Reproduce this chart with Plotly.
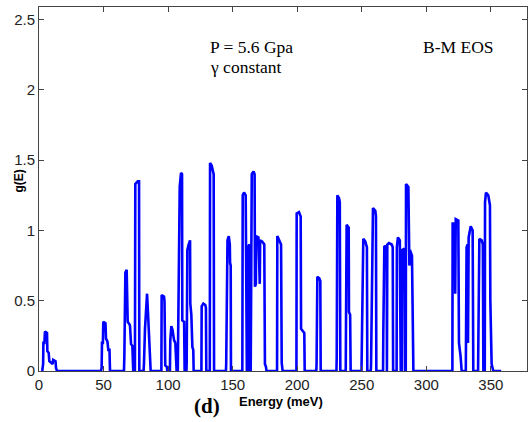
import plotly.graph_objects as go

# Energy (meV) and g(E) points of the phonon density of states curve
energy = [
    2.5, 3.2, 3.4, 4.2, 4.6, 6.2, 6.5, 7.5, 8.0, 10.5, 11.0, 12.8, 13.2, 14.0,
    48.0, 48.5, 48.8, 49.5, 49.8, 51.5, 51.9, 53.0, 53.7, 54.6, 55.0,
    65.8, 66.1, 66.9, 67.9, 68.7, 70.2, 70.5, 71.3, 72.3, 73.0,
    74.3, 74.6, 76.5, 77.5, 77.7,
    81.0, 81.3, 82.1, 82.9, 83.7, 84.4, 85.0, 85.7, 86.5,
    94.8, 95.0, 96.8, 97.2, 97.8, 99.0, 99.4,
    101.4, 101.7, 102.5, 103.5, 104.6, 105.6, 106.3, 106.6,
    107.5, 107.7, 108.4, 109.0, 110.0, 110.8, 111.0, 112.4, 112.8,
    114.2, 114.4, 114.9, 115.9, 117.0, 117.2, 118.0, 118.8, 119.5, 119.8,
    125.8, 126.0, 127.3, 128.8, 129.3, 129.6,
    132.3, 132.5, 133.8, 134.8, 135.3, 135.6,
    144.8, 145.0, 145.4, 146.0, 147.0, 147.8, 148.0, 148.5, 148.7,
    157.5, 157.8, 158.8, 160.1, 160.6, 161.0,
    161.5, 161.7, 163.0, 163.4,
    164.0, 164.2, 164.8, 166.2, 167.0, 167.3, 168.0, 168.2, 170.0, 171.0,
    171.3, 173.0, 174.5, 175.0, 175.8, 176.2,
    184.4, 184.6, 186.1, 187.5, 188.0, 188.7,
    199.4, 199.6, 201.4, 202.7, 203.0, 204.7, 205.5, 205.8,
    214.8, 215.0, 215.6, 217.1, 217.9, 218.2,
    230.4, 230.6, 231.1, 232.4, 233.0, 233.4,
    237.6, 237.8, 238.3, 239.9, 240.1, 241.0, 241.4,
    249.8, 250.0, 251.2, 252.8, 254.0, 254.3,
    257.0, 257.2, 257.9, 258.7, 260.5, 261.0, 261.3,
    266.5, 266.7, 267.5, 269.3, 269.5, 269.8, 271.1, 273.2, 274.0, 274.3,
    277.0, 277.2, 278.0, 279.5, 279.8, 280.2,
    281.0, 281.2, 283.0, 283.5,
    284.1, 284.3, 286.1, 286.9, 287.4, 288.2, 288.9, 290.0,
    320.2, 320.4, 322.2, 322.4, 322.8, 324.8, 325.3, 326.6, 327.4,
    330.6, 330.8, 331.2, 332.0, 332.3, 332.8, 333.5, 334.4, 335.9, 336.2, 336.4,
    340.1, 340.3, 340.7, 341.1, 342.9, 343.8, 344.2,
    345.3, 345.5, 346.2, 348.0, 349.3, 349.6, 350.6, 351.9,
    358.0,
]
g_values = [
    0.0, 0.05, 0.2, 0.2, 0.28, 0.27, 0.14, 0.13, 0.07, 0.05, 0.08, 0.07, 0.02, 0.0,
    0.0, 0.02, 0.2, 0.2, 0.35, 0.34, 0.23, 0.21, 0.15, 0.15, 0.0,
    0.0, 0.1, 0.7, 0.72, 0.35, 0.33, 0.32, 0.19, 0.18, 0.0,
    0.0, 1.33, 1.35, 1.35, 0.0,
    0.0, 0.05, 0.3, 0.42, 0.55, 0.42, 0.3, 0.05, 0.0,
    0.0, 0.54, 0.53, 0.5, 0.04, 0.03, 0.0,
    0.0, 0.22, 0.32, 0.29, 0.22, 0.2, 0.05, 0.0,
    0.0, 0.2, 0.9, 1.31, 1.41, 1.4, 0.36, 0.35, 0.0,
    0.0, 0.06, 0.86, 0.9, 0.93, 0.48, 0.4, 0.17, 0.15, 0.0,
    0.0, 0.46, 0.48, 0.47, 0.45, 0.0,
    0.0, 1.48, 1.46, 1.42, 1.4, 0.0,
    0.0, 0.05, 0.68, 0.93, 0.96, 0.9, 0.77, 0.75, 0.0,
    0.0, 1.25, 1.27, 1.25, 0.05, 0.0,
    0.0, 0.88, 0.9, 0.0,
    0.0, 1.17, 1.4, 1.42, 1.4, 0.6, 0.62, 0.96, 0.95, 0.62,
    0.93, 0.92, 0.9, 0.05, 0.03, 0.0,
    0.0, 0.96, 0.93, 0.9, 0.06, 0.0,
    0.0, 1.12, 1.13, 1.1, 0.3, 0.28, 0.27, 0.0,
    0.0, 0.05, 0.67, 0.66, 0.64, 0.0,
    0.0, 0.1, 1.25, 1.23, 1.2, 0.0,
    0.0, 0.33, 1.04, 1.02, 0.42, 0.4, 0.0,
    0.0, 0.14, 0.94, 0.92, 0.88, 0.0,
    0.0, 0.05, 0.69, 1.16, 1.14, 1.1, 0.0,
    0.0, 0.27, 0.89, 0.88, 0.0, 0.9, 0.91, 0.9, 0.88, 0.0,
    0.0, 0.88, 0.95, 0.93, 0.48, 0.0,
    0.0, 0.86, 0.87, 0.0,
    0.0, 1.33, 1.31, 0.75, 0.86, 0.83, 0.82, 0.0,
    0.0, 1.05, 1.05, 0.55, 1.08, 1.07, 0.2, 0.1, 0.0,
    0.0, 0.3, 0.88, 0.9, 0.2, 0.95, 1.0, 1.03, 1.0, 0.5, 0.0,
    0.0, 0.3, 0.33, 0.94, 0.93, 0.9, 0.0,
    0.0, 1.2, 1.27, 1.25, 1.18, 0.5, 0.05, 0.0,
    0.0,
]

x_ticks = [0, 50, 100, 150, 200, 250, 300, 350]
y_ticks = [0, 0.5, 1, 1.5, 2, 2.5]
y_tick_labels = ["0", "0.5", "1", "1.5", "2", "2.5"]

fig = go.Figure()
fig.add_trace(go.Scatter(
    x=energy, y=g_values, mode="lines",
    line=dict(color="#0000FF", width=2.6),
    showlegend=False, hoverinfo="skip",
))

axis_common = dict(
    showgrid=False, zeroline=False, showline=True, linecolor="#444444",
    linewidth=1, mirror="ticks", ticks="inside", ticklen=5, tickcolor="#444444",
    tickfont=dict(family="Liberation Sans, Arial", size=15, color="#222222"),
)

fig.update_layout(
    width=529, height=422,
    margin=dict(l=39, r=2, t=7, b=51),
    paper_bgcolor="white", plot_bgcolor="white",
    xaxis=dict(range=[0, 378], tickvals=x_ticks, **axis_common),
    yaxis=dict(range=[0, 2.59], tickvals=y_ticks, ticktext=y_tick_labels, **axis_common),
)

serif = "Liberation Serif, Times New Roman"
sans = "Liberation Sans, Arial"
annots = [
    dict(text="P = 5.6 Gpa", x=0.346, y=0.891, xanchor="left", yanchor="middle",
         font=dict(family=serif, size=17.5, color="black")),
    dict(text="γ constant", x=0.346, y=0.836, xanchor="left", yanchor="middle",
         font=dict(family=serif, size=17.5, color="black")),
    dict(text="B-M EOS", x=0.782, y=0.891, xanchor="left", yanchor="middle",
         font=dict(family=serif, size=17.5, color="black")),
    dict(text="<b>g(E)</b>", x=-0.04, y=0.522, xanchor="center", yanchor="middle",
         textangle=-90, font=dict(family=sans, size=12, color="black")),
    dict(text="<b>Energy (meV)</b>", x=0.496, y=-0.085, xanchor="center", yanchor="middle",
         font=dict(family=sans, size=13, color="black")),
    dict(text="<b>(d)</b>", x=0.344, y=-0.096, xanchor="center", yanchor="middle",
         font=dict(family=serif, size=21, color="black")),
]
for a in annots:
    fig.add_annotation(xref="paper", yref="paper", showarrow=False, **a)

fig.write_html("out.html")
